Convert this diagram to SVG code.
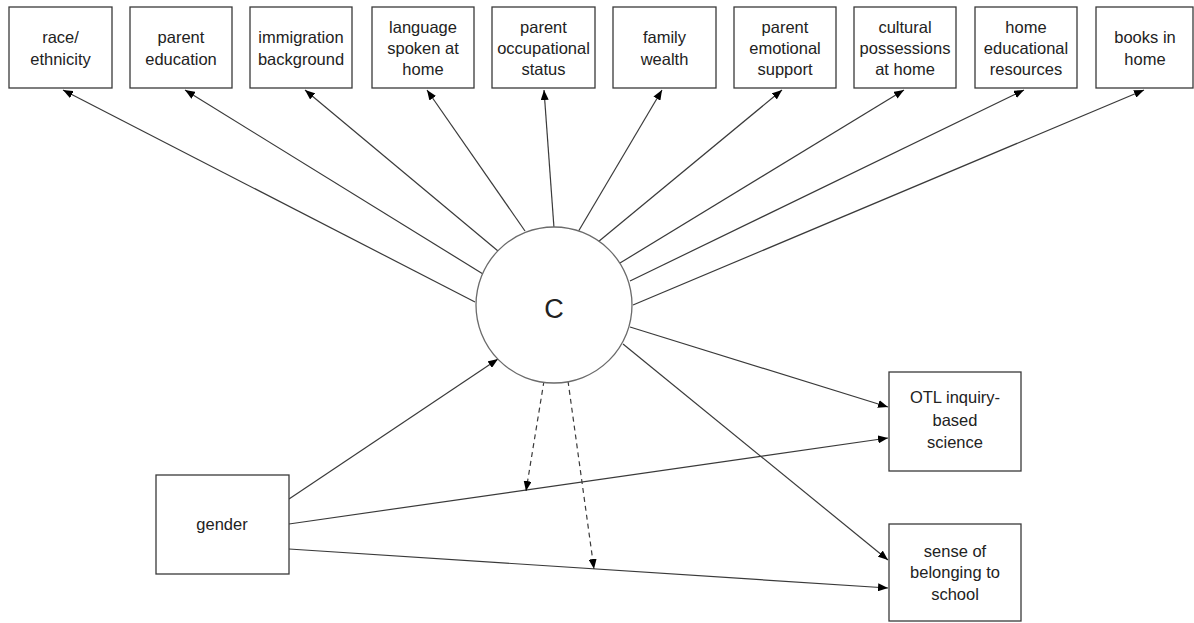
<svg xmlns="http://www.w3.org/2000/svg" width="1194" height="623" viewBox="0 0 1194 623">
<defs>
<marker id="arr" markerUnits="userSpaceOnUse" markerWidth="10" markerHeight="8" refX="10" refY="4" orient="auto">
<path d="M0,0 L10,4 L0,8 Z" fill="#000"/>
</marker>
</defs>
<style>
.box{fill:#fff;stroke:#3a3a3a;stroke-width:1.3}
.lbl{font-family:"Liberation Sans",Arial,sans-serif;font-size:16.5px;fill:#222;text-anchor:middle}
.ln{stroke:#3a3a3a;stroke-width:1.2;fill:none;marker-end:url(#arr)}
.dash{stroke-dasharray:5,4}
</style>
<rect width="1194" height="623" fill="#fff"/>
<g id="connectors">
<line class="ln" x1="475" y1="302" x2="63" y2="90"/>
<line class="ln" x1="483" y1="274" x2="185" y2="90"/>
<line class="ln" x1="498" y1="251" x2="305" y2="90"/>
<line class="ln" x1="525" y1="231" x2="427" y2="90"/>
<line class="ln" x1="554" y1="228" x2="544" y2="90"/>
<line class="ln" x1="578" y1="232" x2="662" y2="90"/>
<line class="ln" x1="598" y1="242" x2="782" y2="90"/>
<line class="ln" x1="620" y1="263" x2="904" y2="90"/>
<line class="ln" x1="630" y1="281" x2="1024" y2="90"/>
<line class="ln" x1="633" y1="305" x2="1144" y2="90"/>
<line class="ln" x1="630" y1="327" x2="888" y2="407"/>
<line class="ln" x1="623" y1="344" x2="888" y2="560"/>
<line class="ln" x1="289" y1="499" x2="498" y2="359"/>
<line class="ln" x1="289" y1="524" x2="888" y2="438"/>
<line class="ln" x1="289" y1="549" x2="888" y2="588"/>
<line class="ln dash" x1="544" y1="381" x2="526" y2="491"/>
<line class="ln dash" x1="568" y1="381" x2="594" y2="569"/>
</g>
<g id="n1"><rect class="box" x="9" y="7" width="103" height="81"/><text class="lbl" x="60.5" y="43">race/</text><text class="lbl" x="60.5" y="65">ethnicity</text></g>
<g id="n2"><rect class="box" x="130" y="7" width="102" height="81"/><text class="lbl" x="181" y="43">parent</text><text class="lbl" x="181" y="65">education</text></g>
<g id="n3"><rect class="box" x="250" y="7" width="102" height="81"/><text class="lbl" x="301" y="43">immigration</text><text class="lbl" x="301" y="65">background</text></g>
<g id="n4"><rect class="box" x="372" y="7" width="102" height="81"/><text class="lbl" x="423" y="33">language</text><text class="lbl" x="423" y="54">spoken at</text><text class="lbl" x="423" y="75">home</text></g>
<g id="n5"><rect class="box" x="492" y="7" width="103" height="81"/><text class="lbl" x="543.5" y="33">parent</text><text class="lbl" x="543.5" y="54">occupational</text><text class="lbl" x="543.5" y="75">status</text></g>
<g id="n6"><rect class="box" x="613" y="7" width="103" height="81"/><text class="lbl" x="664.5" y="43">family</text><text class="lbl" x="664.5" y="65">wealth</text></g>
<g id="n7"><rect class="box" x="734" y="7" width="102" height="81"/><text class="lbl" x="785" y="33">parent</text><text class="lbl" x="785" y="54">emotional</text><text class="lbl" x="785" y="75">support</text></g>
<g id="n8"><rect class="box" x="854" y="7" width="102" height="81"/><text class="lbl" x="905" y="33">cultural</text><text class="lbl" x="905" y="54">possessions</text><text class="lbl" x="905" y="75">at home</text></g>
<g id="n9"><rect class="box" x="975" y="7" width="102" height="81"/><text class="lbl" x="1026" y="33">home</text><text class="lbl" x="1026" y="54">educational</text><text class="lbl" x="1026" y="75">resources</text></g>
<g id="n10"><rect class="box" x="1096" y="7" width="97" height="81"/><text class="lbl" x="1145" y="43">books in</text><text class="lbl" x="1145" y="65">home</text></g>
<g id="c"><circle cx="554" cy="305" r="78" fill="#fff" stroke="#6b6b6b" stroke-width="1.3"/><text x="554" y="318" font-family="Liberation Sans,Arial,sans-serif" font-size="27" fill="#222" text-anchor="middle">C</text></g>
<g id="gender"><rect class="box" x="156" y="475" width="133" height="99"/><text class="lbl" x="222" y="530">gender</text></g>
<g id="otl"><rect class="box" x="889" y="372" width="132" height="99"/><text class="lbl" x="955" y="403">OTL inquiry-</text><text class="lbl" x="955" y="426">based</text><text class="lbl" x="955" y="448">science</text></g>
<g id="belong"><rect class="box" x="889" y="524" width="132" height="97"/><text class="lbl" x="955" y="557">sense of</text><text class="lbl" x="955" y="578">belonging to</text><text class="lbl" x="955" y="600">school</text></g>
</svg>
